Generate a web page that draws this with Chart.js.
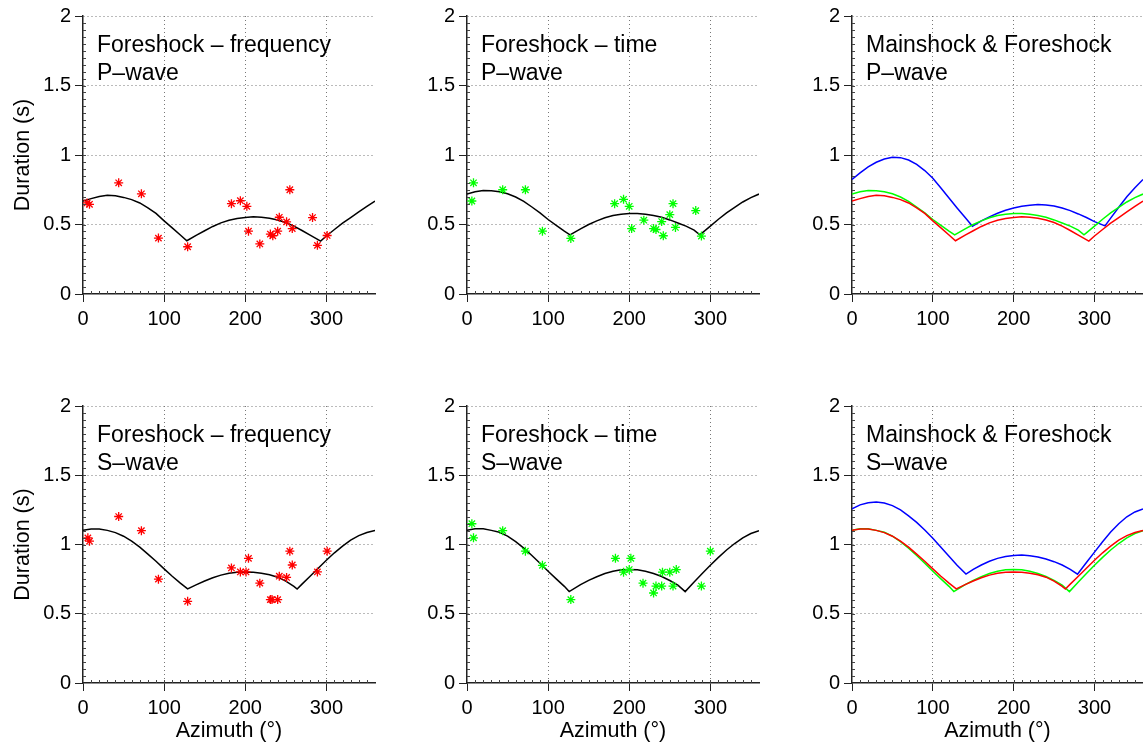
<!DOCTYPE html>
<html>
<head>
<meta charset="utf-8">
<script src="https://cdn.jsdelivr.net/npm/chart.js@4/dist/chart.umd.min.js"></script>
<style>
  html, body { margin: 0; padding: 0; background: #fff; overflow: hidden; }
  body { position: relative; width: 1143px; height: 748px; }
  canvas { position: absolute; }
</style>
</head>
<body>
<script>
// tick labels
const xTicks = [0, 100, 200, 300];
const yTicks = [0, 0.5, 1, 1.5, 2];

// modelled durations, [azimuth, duration]
const freqP = [[0,0.669],[10,0.686],[20,0.702],[30,0.71],[40,0.707],[50,0.695],[60,0.679],[70,0.655],[80,0.62],[90,0.58],[100,0.526],[110,0.476],[120,0.424],[128,0.383],[140,0.424],[150,0.455],[160,0.486],[170,0.512],[180,0.531],[190,0.543],[200,0.55],[210,0.555],[220,0.552],[230,0.545],[240,0.533],[250,0.514],[260,0.488],[270,0.457],[280,0.424],[293,0.381],[300,0.417],[310,0.464],[320,0.51],[330,0.55],[340,0.59],[350,0.631],[360,0.669]];
const timeP = [[0,0.719],[10,0.736],[20,0.745],[30,0.743],[40,0.736],[50,0.721],[60,0.698],[70,0.667],[80,0.626],[90,0.583],[100,0.536],[110,0.494],[120,0.452],[127,0.426],[140,0.469],[150,0.5],[160,0.526],[170,0.548],[180,0.564],[190,0.574],[200,0.579],[210,0.579],[220,0.573],[230,0.565],[240,0.552],[250,0.533],[260,0.511],[270,0.488],[280,0.46],[287,0.426],[290,0.44],[300,0.488],[310,0.538],[320,0.583],[330,0.624],[340,0.662],[350,0.693],[360,0.719]];
const mainP = [[0,0.824],[10,0.871],[20,0.914],[30,0.948],[40,0.971],[50,0.983],[60,0.981],[70,0.964],[80,0.933],[90,0.888],[100,0.833],[110,0.762],[120,0.69],[130,0.619],[140,0.55],[149,0.488],[160,0.526],[170,0.555],[180,0.581],[190,0.602],[200,0.619],[210,0.631],[220,0.638],[230,0.643],[240,0.64],[250,0.633],[260,0.619],[270,0.6],[280,0.576],[290,0.55],[300,0.521],[313,0.49],[320,0.546],[330,0.624],[340,0.699],[350,0.764],[360,0.824]];
const freqS = [[0,1.102],[10,1.112],[20,1.112],[30,1.102],[40,1.086],[50,1.06],[60,1.024],[70,0.981],[80,0.931],[90,0.879],[100,0.824],[110,0.771],[120,0.721],[129,0.679],[140,0.71],[150,0.736],[160,0.76],[170,0.779],[180,0.793],[190,0.8],[200,0.802],[210,0.8],[220,0.793],[230,0.781],[240,0.764],[250,0.735],[260,0.698],[264,0.679],[270,0.714],[280,0.771],[290,0.829],[300,0.886],[310,0.94],[320,0.988],[330,1.031],[340,1.064],[350,1.086],[360,1.102]];
const timeS = [[0,1.102],[10,1.114],[20,1.114],[30,1.102],[40,1.088],[50,1.06],[60,1.021],[70,0.974],[80,0.921],[90,0.864],[100,0.807],[110,0.752],[120,0.698],[126,0.66],[140,0.71],[150,0.741],[160,0.767],[170,0.79],[180,0.807],[190,0.817],[200,0.819],[210,0.817],[220,0.807],[230,0.79],[240,0.769],[250,0.74],[260,0.707],[269,0.66],[280,0.729],[290,0.79],[300,0.85],[310,0.907],[320,0.96],[330,1.007],[340,1.048],[350,1.079],[360,1.1]];
const mainS = [[0,1.257],[10,1.286],[20,1.302],[30,1.307],[40,1.3],[50,1.281],[60,1.25],[70,1.207],[80,1.16],[90,1.105],[100,1.045],[110,0.98],[120,0.915],[130,0.85],[141,0.786],[150,0.821],[160,0.852],[170,0.879],[180,0.9],[190,0.914],[200,0.921],[210,0.924],[220,0.919],[230,0.91],[240,0.895],[250,0.876],[260,0.852],[270,0.821],[279,0.786],[290,0.87],[300,0.945],[310,1.02],[320,1.09],[330,1.15],[340,1.2],[350,1.235],[360,1.257]];

// measured durations, [azimuth, duration]
const freqPObs = [[5,0.655],[8,0.645],[44,0.8],[72,0.721],[93,0.402],[129,0.34],[183,0.65],[194,0.671],[202,0.631],[204,0.452],[218,0.36],[231,0.431],[234,0.419],[240,0.452],[242,0.552],[251,0.519],[255,0.75],[258,0.471],[283,0.55],[289,0.35],[301,0.421]];
const timePObs = [[8,0.8],[6,0.669],[44,0.75],[72,0.75],[93,0.452],[128,0.4],[182,0.65],[193,0.681],[200,0.631],[203,0.471],[218,0.531],[230,0.471],[233,0.464],[240,0.521],[242,0.419],[250,0.571],[254,0.65],[257,0.479],[282,0.6],[289,0.417]];
const freqSObs = [[6,1.048],[8,1.024],[44,1.202],[72,1.1],[93,0.75],[129,0.59],[183,0.831],[194,0.802],[201,0.802],[204,0.9],[218,0.721],[231,0.602],[233,0.602],[240,0.602],[242,0.771],[251,0.762],[255,0.952],[258,0.852],[289,0.802],[301,0.952]];
const timeSObs = [[6,1.15],[8,1.048],[44,1.1],[72,0.952],[93,0.85],[128,0.602],[183,0.9],[193,0.8],[200,0.819],[202,0.9],[217,0.721],[230,0.65],[233,0.7],[240,0.7],[241,0.8],[250,0.8],[254,0.7],[258,0.819],[289,0.7],[300,0.952]];

const RED = '#ff0000', GREEN = '#00ff00', BLUE = '#0000ff', BLACK = '#000000';
const FONT = '"Liberation Sans", Arial, Helvetica, sans-serif';
Chart.defaults.font.family = FONT;
Chart.defaults.color = '#000';

// cell geometry
const colLeft = [0, 384, 769], colWidth = [384, 384, 374], padRight = [9, 9, 0];
const rowTop = [0, 390], rowHeight = [390, 358], padTop = [14, 13], xAxisH = [40, 64];

const panels = [
  { row: 0, col: 0, text: ['Foreshock \u2013 frequency', 'P\u2013wave'], lines: [[freqP, BLACK]], obs: [freqPObs, RED] },
  { row: 0, col: 1, text: ['Foreshock \u2013 time', 'P\u2013wave'], lines: [[timeP, BLACK]], obs: [timePObs, GREEN] },
  { row: 0, col: 2, text: ['Mainshock & Foreshock', 'P\u2013wave'], lines: [[freqP, RED], [timeP, GREEN], [mainP, BLUE]] },
  { row: 1, col: 0, text: ['Foreshock \u2013 frequency', 'S\u2013wave'], lines: [[freqS, BLACK]], obs: [freqSObs, RED] },
  { row: 1, col: 1, text: ['Foreshock \u2013 time', 'S\u2013wave'], lines: [[timeS, BLACK]], obs: [timeSObs, GREEN] },
  { row: 1, col: 2, text: ['Mainshock & Foreshock', 'S\u2013wave'], lines: [[freqS, RED], [timeS, GREEN], [mainS, BLUE]] },
];

// two-line label in the upper left of each axes
const panelText = {
  id: 'panelText',
  afterDraw(chart, args, opts) {
    const { ctx, chartArea } = chart;
    ctx.save();
    ctx.font = '23px ' + FONT;
    ctx.fillStyle = '#000';
    ctx.textBaseline = 'alphabetic';
    opts.lines.forEach((t, i) => ctx.fillText(t, chartArea.left + 14, chartArea.top + 36 + i * 27.5));
    ctx.restore();
  }
};

// small inward ticks between the labelled ones
const minorTicks = {
  id: 'minorTicks',
  afterDraw(chart) {
    const { ctx, chartArea: a, scales: { x, y } } = chart;
    ctx.save();
    ctx.strokeStyle = '#444';
    ctx.lineWidth = 1;
    ctx.beginPath();
    for (let v = 10; v < 360; v += 10) {
      const px = Math.round(x.getPixelForValue(v)) + 0.5;
      ctx.moveTo(px, a.bottom);
      ctx.lineTo(px, a.bottom - 3);
    }
    for (let i = 1; i < 40; i++) {
      const py = Math.round(y.getPixelForValue(i * 0.05)) + 0.5;
      ctx.moveTo(a.left, py);
      ctx.lineTo(a.left + 3, py);
    }
    ctx.stroke();
    ctx.restore();
  }
};

function toXY(pairs) {
  return pairs.map(([x, y]) => ({ x, y }));
}

function makePanel(p) {
  const W = colWidth[p.col], H = rowHeight[p.row];
  const canvas = document.createElement('canvas');
  canvas.width = W;
  canvas.height = H;
  canvas.style.left = colLeft[p.col] + 'px';
  canvas.style.top = rowTop[p.row] + 'px';
  canvas.style.width = W + 'px';
  canvas.style.height = H + 'px';
  document.body.appendChild(canvas);

  const datasets = [];
  if (p.obs) {
    datasets.push({
      data: toXY(p.obs[0]),
      pointStyle: 'star',
      pointRadius: 4.5,
      borderColor: p.obs[1],
      backgroundColor: p.obs[1],
      borderWidth: 1.3,
    });
  }
  p.lines.forEach(([d, c]) => {
    datasets.push({
      data: toXY(d),
      showLine: true,
      pointRadius: 0,
      borderColor: c,
      borderWidth: 1.5,
      fill: false,
      tension: 0,
    });
  });

  const padBottom = H - padTop[p.row] - 280 - xAxisH[p.row];
  const grid = {
    color: c => (c.tick && c.tick.value === 0 ? 'rgba(0,0,0,0)' : '#777'),
    lineWidth: 1,
    tickLength: 8,
    tickColor: '#222',
    tickWidth: 1,
    tickBorderDash: [],
  };
  const border = { display: true, color: '#222', width: 1.5, dash: [1, 3] };

  new Chart(canvas, {
    type: 'scatter',
    data: { datasets },
    options: {
      responsive: false,
      animation: false,
      devicePixelRatio: 1,
      events: [],
      layout: { padding: { left: 0, right: padRight[p.col], top: padTop[p.row], bottom: padBottom } },
      plugins: {
        legend: { display: false },
        tooltip: { enabled: false },
        panelText: { lines: p.text },
      },
      scales: {
        x: {
          type: 'linear',
          min: 0,
          max: 360,
          afterBuildTicks: s => { s.ticks = xTicks.map(v => ({ value: v })); },
          afterFit: s => { s.height = xAxisH[p.row]; },
          grid,
          border,
          ticks: { font: { size: 20 }, color: '#000', padding: 5, maxRotation: 0, callback: v => String(v) },
          title: {
            display: p.row === 1,
            text: 'Azimuth (\u00b0)',
            font: { size: 21.5 },
            color: '#000',
            padding: { top: 0, bottom: 3 },
          },
        },
        y: {
          type: 'linear',
          min: 0,
          max: 2,
          afterBuildTicks: s => { s.ticks = yTicks.map(v => ({ value: v })); },
          afterFit: s => { s.width = 83; },
          grid,
          border,
          ticks: { font: { size: 20 }, color: '#000', padding: 4, callback: v => String(v) },
          title: {
            display: p.col === 0,
            text: 'Duration (s)',
            font: { size: 21.5 },
            color: '#000',
            padding: { top: 10, bottom: 0 },
          },
        },
      },
    },
    plugins: [panelText, minorTicks],
  });
}

panels.forEach(makePanel);
</script>
</body>
</html>
